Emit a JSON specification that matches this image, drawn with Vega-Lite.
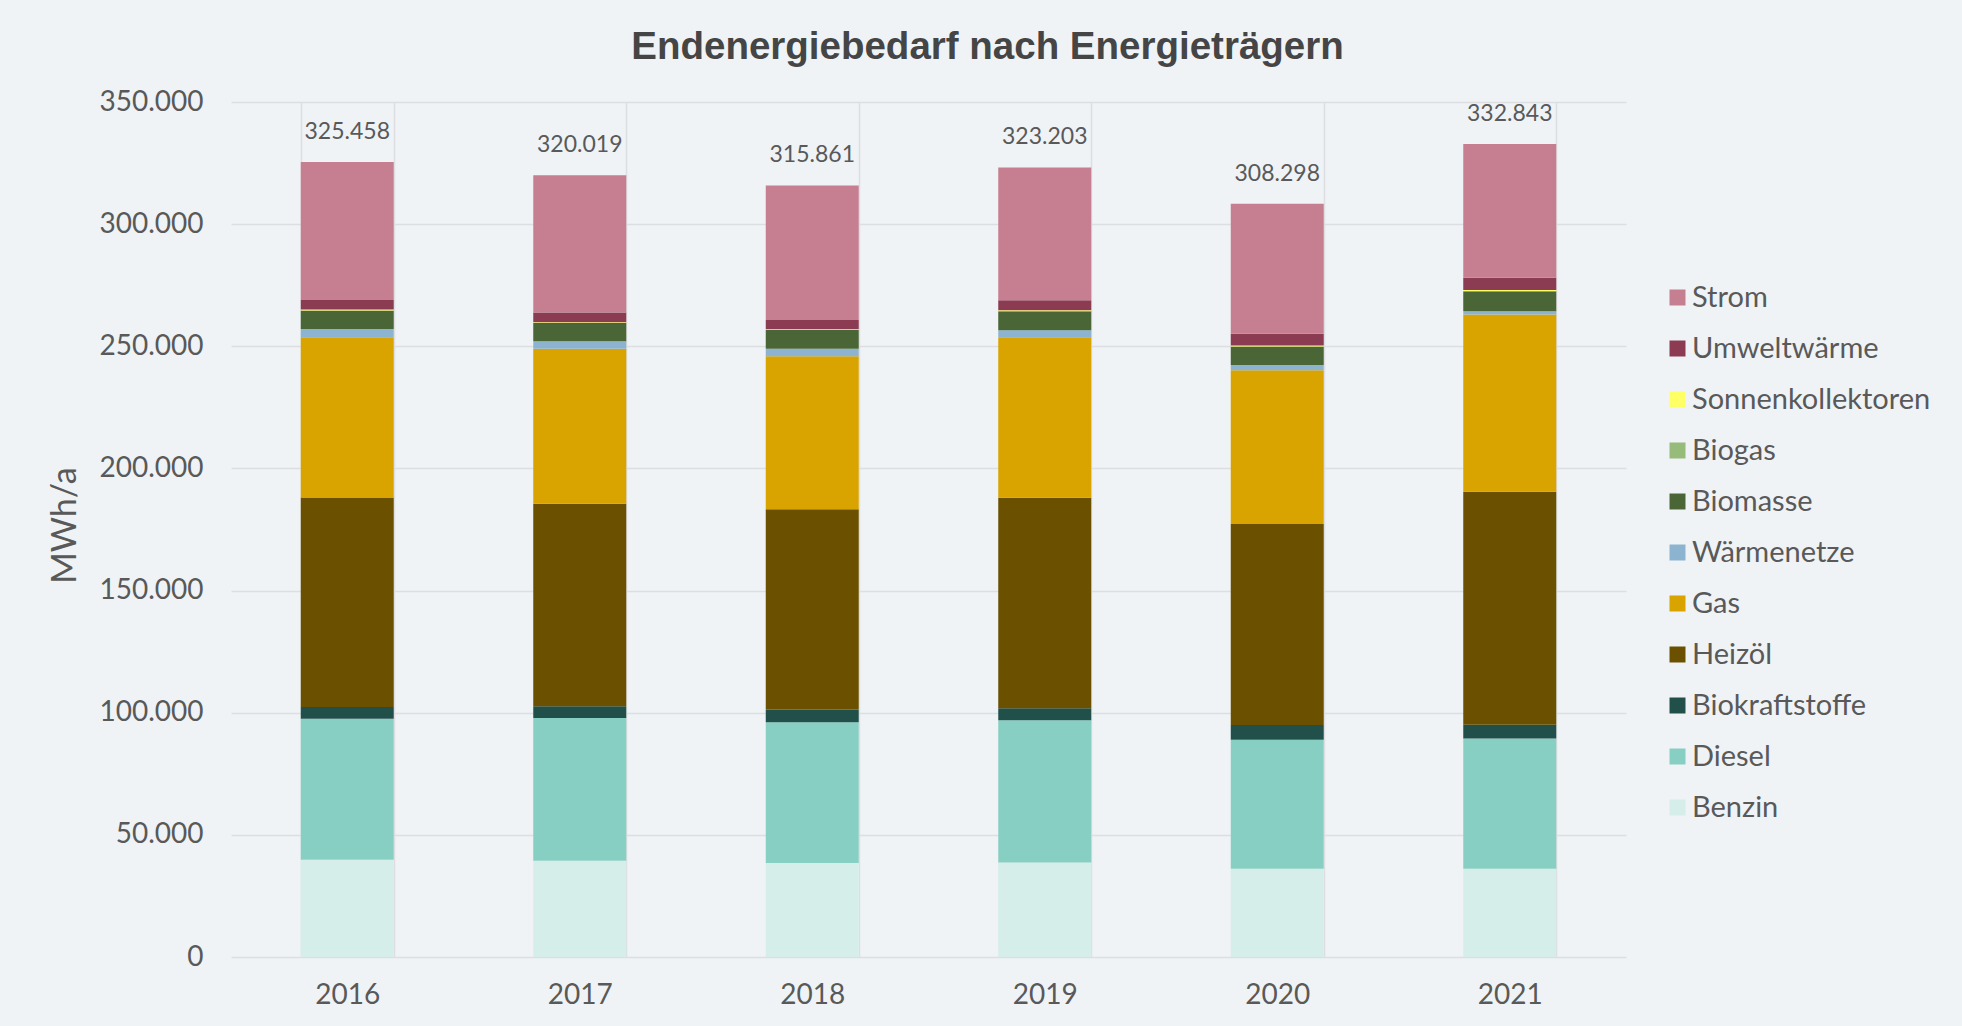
{
  "$schema": "https://vega.github.io/schema/vega-lite/v6.json",
  "width": 1395,
  "height": 855,
  "autosize": {"type": "none"},
  "padding": {"left": 231, "top": 102, "right": 336, "bottom": 69},
  "background": "#eff3f6",
  "title": {
    "text": "Endenergiebedarf nach Energieträgern",
    "font": "Liberation Sans",
    "fontSize": 38.5,
    "fontWeight": "bold",
    "color": "#454545",
    "anchor": "middle",
    "frame": "group",
    "baseline": "alphabetic",
    "dx": 59,
    "dy": 36,
    "offset": 27
  },
  "config": {"view": {"stroke": null}},
  "data": {
    "values": [
      {"year": "2016", "carrier": "Benzin", "value": 39800},
      {"year": "2016", "carrier": "Diesel", "value": 57700},
      {"year": "2016", "carrier": "Biokraftstoffe", "value": 4800},
      {"year": "2016", "carrier": "Heizöl", "value": 85800},
      {"year": "2016", "carrier": "Gas", "value": 65600},
      {"year": "2016", "carrier": "Wärmenetze", "value": 3400},
      {"year": "2016", "carrier": "Biomasse", "value": 7600},
      {"year": "2016", "carrier": "Biogas", "value": 0},
      {"year": "2016", "carrier": "Sonnenkollektoren", "value": 400},
      {"year": "2016", "carrier": "Umweltwärme", "value": 3800},
      {"year": "2016", "carrier": "Strom", "value": 56558},
      {"year": "2017", "carrier": "Benzin", "value": 39400},
      {"year": "2017", "carrier": "Diesel", "value": 58440},
      {"year": "2017", "carrier": "Biokraftstoffe", "value": 4800},
      {"year": "2017", "carrier": "Heizöl", "value": 82890},
      {"year": "2017", "carrier": "Gas", "value": 63510},
      {"year": "2017", "carrier": "Wärmenetze", "value": 3030},
      {"year": "2017", "carrier": "Biomasse", "value": 7480},
      {"year": "2017", "carrier": "Biogas", "value": 0},
      {"year": "2017", "carrier": "Sonnenkollektoren", "value": 300},
      {"year": "2017", "carrier": "Umweltwärme", "value": 3930},
      {"year": "2017", "carrier": "Strom", "value": 56239},
      {"year": "2018", "carrier": "Benzin", "value": 38430},
      {"year": "2018", "carrier": "Diesel", "value": 57650},
      {"year": "2018", "carrier": "Biokraftstoffe", "value": 5210},
      {"year": "2018", "carrier": "Heizöl", "value": 81950},
      {"year": "2018", "carrier": "Gas", "value": 62680},
      {"year": "2018", "carrier": "Wärmenetze", "value": 3110},
      {"year": "2018", "carrier": "Biomasse", "value": 7650},
      {"year": "2018", "carrier": "Biogas", "value": 0},
      {"year": "2018", "carrier": "Sonnenkollektoren", "value": 300},
      {"year": "2018", "carrier": "Umweltwärme", "value": 3820},
      {"year": "2018", "carrier": "Strom", "value": 55061},
      {"year": "2019", "carrier": "Benzin", "value": 38720},
      {"year": "2019", "carrier": "Diesel", "value": 58180},
      {"year": "2019", "carrier": "Biokraftstoffe", "value": 4920},
      {"year": "2019", "carrier": "Heizöl", "value": 86170},
      {"year": "2019", "carrier": "Gas", "value": 65710},
      {"year": "2019", "carrier": "Wärmenetze", "value": 2870},
      {"year": "2019", "carrier": "Biomasse", "value": 7800},
      {"year": "2019", "carrier": "Biogas", "value": 0},
      {"year": "2019", "carrier": "Sonnenkollektoren", "value": 400},
      {"year": "2019", "carrier": "Umweltwärme", "value": 4100},
      {"year": "2019", "carrier": "Strom", "value": 54333},
      {"year": "2020", "carrier": "Benzin", "value": 36140},
      {"year": "2020", "carrier": "Diesel", "value": 52780},
      {"year": "2020", "carrier": "Biokraftstoffe", "value": 6060},
      {"year": "2020", "carrier": "Heizöl", "value": 82230},
      {"year": "2020", "carrier": "Gas", "value": 62980},
      {"year": "2020", "carrier": "Wärmenetze", "value": 2170},
      {"year": "2020", "carrier": "Biomasse", "value": 7590},
      {"year": "2020", "carrier": "Biogas", "value": 0},
      {"year": "2020", "carrier": "Sonnenkollektoren", "value": 400},
      {"year": "2020", "carrier": "Umweltwärme", "value": 4830},
      {"year": "2020", "carrier": "Strom", "value": 53118},
      {"year": "2021", "carrier": "Benzin", "value": 36140},
      {"year": "2021", "carrier": "Diesel", "value": 53260},
      {"year": "2021", "carrier": "Biokraftstoffe", "value": 5660},
      {"year": "2021", "carrier": "Heizöl", "value": 95380},
      {"year": "2021", "carrier": "Gas", "value": 72530},
      {"year": "2021", "carrier": "Wärmenetze", "value": 1390},
      {"year": "2021", "carrier": "Biomasse", "value": 8160},
      {"year": "2021", "carrier": "Biogas", "value": 0},
      {"year": "2021", "carrier": "Sonnenkollektoren", "value": 500},
      {"year": "2021", "carrier": "Umweltwärme", "value": 5040},
      {"year": "2021", "carrier": "Strom", "value": 54783}
    ]
  },
  "encoding": {
    "x": {
      "field": "year",
      "type": "nominal",
      "scale": {"paddingInner": 0.6, "paddingOuter": 0.3},
      "axis": {
        "title": null,
        "labelAngle": 0,
        "tickBand": "extent",
        "ticks": false,
        "domain": false,
        "grid": true,
        "gridColor": "#dcdee1",
        "gridWidth": 1.5,
        "labelFont": "Lato",
        "labelFontSize": 28,
        "labelColor": "#595959",
        "labelPadding": 24
      }
    }
  },
  "layer": [
    {
      "transform": [
        {"calculate": "indexof(['Benzin','Diesel','Biokraftstoffe','Heizöl','Gas','Wärmenetze','Biomasse','Biogas','Sonnenkollektoren','Umweltwärme','Strom'], datum.carrier)", "as": "stackIdx"}
      ],
      "mark": {"type": "bar"},
      "encoding": {
        "y": {
          "field": "value",
          "type": "quantitative",
          "stack": "zero",
          "scale": {"domain": [0, 350000], "nice": false},
          "axis": {
            "title": "MWh/a",
            "values": [0, 50000, 100000, 150000, 200000, 250000, 300000, 350000],
            "labelExpr": "replace(format(datum.value, ','), ',', '.')",
            "ticks": false,
            "domain": false,
            "grid": true,
            "gridColor": "#dcdee1",
            "gridWidth": 1.5,
            "labelPadding": 28,
            "labelFont": "Lato",
            "labelFontSize": 28,
            "labelColor": "#595959",
            "titleFont": "Lato",
            "titleFontSize": 34,
            "titleFontWeight": "normal",
            "titleColor": "#595959",
            "titleX": -166,
            "titleY": 423,
            "titleAngle": -90,
            "titleBaseline": "middle",
            "titleAlign": "center"
          }
        },
        "color": {
          "field": "carrier",
          "type": "nominal",
          "scale": {
            "domain": ["Strom", "Umweltwärme", "Sonnenkollektoren", "Biogas", "Biomasse", "Wärmenetze", "Gas", "Heizöl", "Biokraftstoffe", "Diesel", "Benzin"],
            "range": ["#c67f91", "#8b3c53", "#ffff66", "#97bb7a", "#4a6636", "#8cb4d0", "#d9a300", "#6b5000", "#21504b", "#88cfc3", "#d5eeea"]
          },
          "legend": {
            "title": null,
            "orient": "none",
            "legendX": 1432,
            "legendY": 181,
            "padding": 0,
            "symbolType": "square",
            "symbolSize": 256,
            "symbolStrokeWidth": 0,
            "labelFont": "Lato",
            "labelFontSize": 29,
            "labelColor": "#595959",
            "labelOffset": 0,
            "labelLimit": 0,
            "rowPadding": 21
          }
        },
        "order": {"field": "stackIdx", "type": "quantitative", "sort": "ascending"}
      }
    },
    {
      "transform": [
        {"aggregate": [{"op": "sum", "field": "value", "as": "total"}], "groupby": ["year"]},
        {"calculate": "replace(format(datum.total, ','), ',', '.')", "as": "label"}
      ],
      "mark": {"type": "text", "font": "Lato", "fontSize": 23, "color": "#595959", "baseline": "alphabetic", "dy": -23},
      "encoding": {
        "y": {"field": "total", "type": "quantitative"},
        "text": {"field": "label", "type": "nominal"}
      }
    }
  ]
}
